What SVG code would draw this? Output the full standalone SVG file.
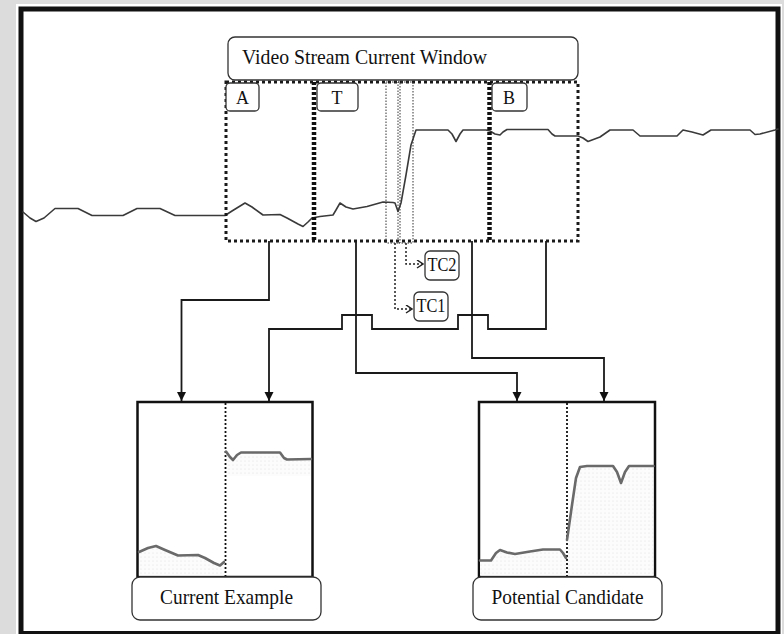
<svg xmlns="http://www.w3.org/2000/svg" width="784" height="634" viewBox="0 0 784 634">
<style>
text{font-family:"Liberation Serif","Times New Roman",serif;fill:#111}
.lbl{font-size:21.5px}
.sm{font-size:18px;text-anchor:middle}
.box{fill:#fff;stroke:#333;stroke-width:1.3}
.win{fill:none;stroke:#1a1a1a;stroke-width:3;stroke-dasharray:3 3}
.div{fill:none;stroke:#111;stroke-width:4.5;stroke-dasharray:3 2}
.thin{fill:none;stroke:#333;stroke-width:1;stroke-dasharray:1.5 1.5}
.sig{fill:none;stroke:#3a3a3a;stroke-width:1.6;stroke-linejoin:round;stroke-linecap:round}
.mini{fill:none;stroke:#6a6a6a;stroke-width:2.6;stroke-linejoin:round;stroke-linecap:round}
.conn{fill:none;stroke:#1a1a1a;stroke-width:1.8}
.tc{fill:none;stroke:#222;stroke-width:1.5;stroke-dasharray:2 2}
.frame{fill:#fff;stroke:#111;stroke-width:2.5}
.vdot{stroke:#111;stroke-width:1.8;stroke-dasharray:2 2}
</style>
<defs>
<marker id="arr" markerUnits="userSpaceOnUse" markerWidth="9" markerHeight="10" refX="9" refY="4.5" orient="auto">
<path d="M0,0 L9,4.5 L0,9 z" fill="#111"/>
</marker>
<marker id="open" markerUnits="userSpaceOnUse" markerWidth="8" markerHeight="10" refX="7" refY="4.5" orient="auto">
<path d="M1,0.5 L7,4.5 L1,8.5" fill="none" stroke="#222" stroke-width="1.5"/>
</marker>
<pattern id="dots" width="4" height="4" patternUnits="userSpaceOnUse">
<rect width="4" height="4" fill="#fcfcfc"/>
<circle cx="1" cy="1" r="0.6" fill="#e0e0e0"/>
</pattern>
</defs>
<rect width="784" height="634" fill="#dcdcdc"/>
<rect x="16" y="4" width="766" height="632" fill="#fff"/>
<rect x="21" y="9" width="757" height="624.5" fill="#fff" stroke="#111" stroke-width="5"/>

<g id="signal">
<path class="sig" d="M23,212 L30,218 L36,221.5 L44,218 L55,208.5 L78,208.5 L92,215.5 L123,215.5 L137,208.5 L160,208.5 L175,215.5 L225,215.5 L232,211 L245,203 L252,207 L263,215 L280,214.5 L287,218 L298,224 L303,226.5 L308,222 L312,218 L320,216.5 L333,215 L336,210 L340,203 L346,207 L353,209 L367,206.5 L383,202 L393,202.5 L395,203 L398,211.5 L401,203 L406,175 L411,145 L416,130 L448,130 L452,134 L456,141.5 L460,134 L463,130 L486,130 L490,131 L495,134 L500,135 L503,132 L507,129.5 L548,129.5 L552,134 L555,136 L578,136 L583,138 L588,141.5 L600,137 L610,130 L633,130 L640,136 L677,136 L683,130 L692,132 L703,135 L711,130 L750,130 L755,134.5 L760,134 L775,130 L778,129"/>
</g>

<g id="window">
<rect class="win" x="226" y="82" width="352" height="159"/>
<line class="div" x1="314" y1="82" x2="314" y2="241"/>
<line class="div" x1="489.5" y1="82" x2="489.5" y2="241"/>
<rect class="thin" x="386" y="82" width="14" height="161"/>
<rect class="thin" x="398" y="82" width="15" height="161"/>
</g>

<g id="video-stream">
<rect class="box" x="228" y="37" width="350" height="43" rx="7"/>
<text class="lbl" x="242" y="64" textLength="245" lengthAdjust="spacingAndGlyphs">Video Stream Current Window</text>
</g>
<g id="label-A">
<rect class="box" x="226" y="83" width="33" height="28" rx="4"/>
<text class="sm" x="242.5" y="104">A</text>
</g>
<g id="label-T">
<rect class="box" x="317" y="83" width="41" height="28" rx="4"/>
<text class="sm" x="337" y="104">T</text>
</g>
<g id="label-B">
<rect class="box" x="492" y="83" width="35" height="28" rx="4"/>
<text class="sm" x="509" y="104">B</text>
</g>
<g id="TC2">
<rect class="box" x="425" y="251" width="34" height="29" rx="5"/>
<text class="sm" x="442" y="271" textLength="29" lengthAdjust="spacingAndGlyphs">TC2</text>
</g>
<g id="TC1">
<rect class="box" x="414" y="292" width="34" height="29" rx="5"/>
<text class="sm" x="431" y="312" textLength="29" lengthAdjust="spacingAndGlyphs">TC1</text>
</g>

<g id="connectors">
<path class="conn" d="M269,241 V300 H181.5 V401" marker-end="url(#arr)"/>
<path class="conn" d="M546,241 V329 H488 V315 H458 V329 H372 V315 H342 V329 H269 V401" marker-end="url(#arr)"/>
<path class="conn" d="M356,241 V373 H517 V401" marker-end="url(#arr)"/>
<path class="conn" d="M472,241 V358 H604 V401" marker-end="url(#arr)"/>
<path class="tc" d="M395,243 V309 H412" marker-end="url(#open)"/>
<path class="tc" d="M406,243 V264 H423" marker-end="url(#open)"/>
</g>

<g id="current-example">
<rect class="frame" x="137.5" y="402" width="175" height="175"/>
<path fill="url(#dots)" d="M139,552 L148,548 L156,546 L165,550 L178,555.5 L198,555 L205,558 L214,563 L220,565.5 L224,562 V575.5 H139 z"/>
<path fill="url(#dots)" d="M226,451.5 L230,457 L233,460 L237,455 L241,452.5 L280,452.5 L284,458 L287,459.5 L311,459 V476 H226 z"/>
<line class="vdot" x1="225.5" y1="403" x2="225.5" y2="576"/>
<path class="mini" d="M139,552 L148,548 L156,546 L165,550 L178,555.5 L198,555 L205,558 L214,563 L220,565.5 L224,562"/>
<path class="mini" d="M226,451.5 L230,457 L233,460 L237,455 L241,452.5 L280,452.5 L284,458 L287,459.5 L311,459"/>
<rect class="box" x="132" y="577" width="189" height="43" rx="8"/>
<text class="lbl" x="226.5" y="604" text-anchor="middle" textLength="133" lengthAdjust="spacingAndGlyphs">Current Example</text>
</g>

<g id="potential-candidate">
<rect class="frame" x="479" y="402" width="176" height="175"/>
<path fill="url(#dots)" d="M480,560.5 L491,560.5 L496,553 L500,550 L507,552.5 L515,554 L530,551.5 L543,549.5 L560,549.5 L563,553 L566,558 V575.5 H480 z"/>
<path fill="url(#dots)" d="M567,558 L572,505 L576,478 L580,467 L587,466 L613,466 L617,472 L621,483 L625,472 L629,466 L653.5,466 V575.5 H567 z"/>
<line class="vdot" x1="567" y1="403" x2="567" y2="576"/>
<path class="mini" d="M480,560.5 L491,560.5 L496,553 L500,550 L507,552.5 L515,554 L530,551.5 L543,549.5 L560,549.5 L563,553 L566,558"/>
<path class="mini" d="M567,540 L572,505 L576,478 L580,467 L587,466 L613,466 L617,472 L621,483 L625,472 L629,466 L653.5,466"/>
<rect class="box" x="473" y="577" width="189" height="43" rx="8"/>
<text class="lbl" x="567.5" y="604" text-anchor="middle" textLength="152" lengthAdjust="spacingAndGlyphs">Potential Candidate</text>
</g>
</svg>
